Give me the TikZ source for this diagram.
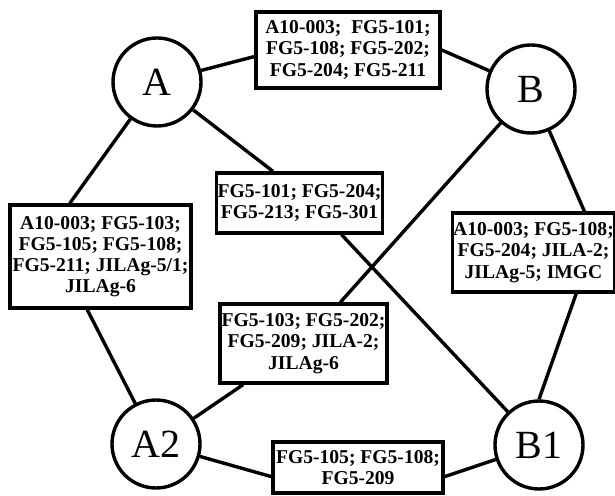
\documentclass[tikz,border=0pt]{standalone}
\usepackage{fontspec}
\setmainfont{Liberation Serif}

\begin{document}
\begin{tikzpicture}[x=0.5pt, y=-0.5pt, line width=1.7pt,
        site/.style={circle, draw, minimum size=44pt, inner sep=0pt, font=\fontsize{20}{20}\selectfont},
        list/.style={rectangle, draw, fill=white, align=center, inner sep=0.5pt, font=\bfseries\fontsize{9.8}{10.6}\selectfont}]
        \useasboundingbox (0, 0) rectangle (615, 496);

        \node[site] at (157, 82)(A){A};
        \node[site] at (531, 89)(B){B};
        \node[site] at (156, 444)(A2){A2};
        \node[site] at (539, 445)(B1){B1};

        \node[list, minimum width=92pt, minimum height=38pt] at (348, 50)(ab){A10-003;\ \ FG5-101;\\FG5-108; FG5-202;\\FG5-204; FG5-211};
        \node[list, minimum width=90.5pt, minimum height=51.5pt] at (100.5, 256.5)(aa2){A10-003; FG5-103;\\FG5-105; FG5-108;\\FG5-211; JILAg-5/1;\\JILAg-6};
        \node[list, minimum width=82.5pt, minimum height=30pt] at (299.5, 203)(ab1){FG5-101; FG5-204;\\FG5-213; FG5-301};
        \node[list, minimum width=80.5pt, minimum height=39.5pt] at (533.5, 252.5)(bb1){A10-003; FG5-108;\\FG5-204; JILA-2;\\JILAg-5; IMGC};
        \node[list, minimum width=83.5pt, minimum height=39.5pt] at (303.5, 343.5)(ba2){FG5-103; FG5-202;\\FG5-209; JILA-2;\\JILAg-6};
        \node[list, minimum width=85pt, minimum height=25.5pt] at (358, 467.5)(a2b1){FG5-105; FG5-108;\\FG5-209};

        \draw
        (A)--(ab.184)
        (ab.east)--(B)
        (A)--(aa2.120)
        (aa2.256)--(A2)
        (A)--(ab1.130)
        (ab1.323)--(B1)
        (B)--(ba2)
        (ba2)--(A2)
        (B)--(bb1.39)
        (bb1.316)--(B1.north)
        (A2)--(a2b1.186)
        (a2b1.354)--(B1)
        ;
    \end{tikzpicture}
\end{document}
